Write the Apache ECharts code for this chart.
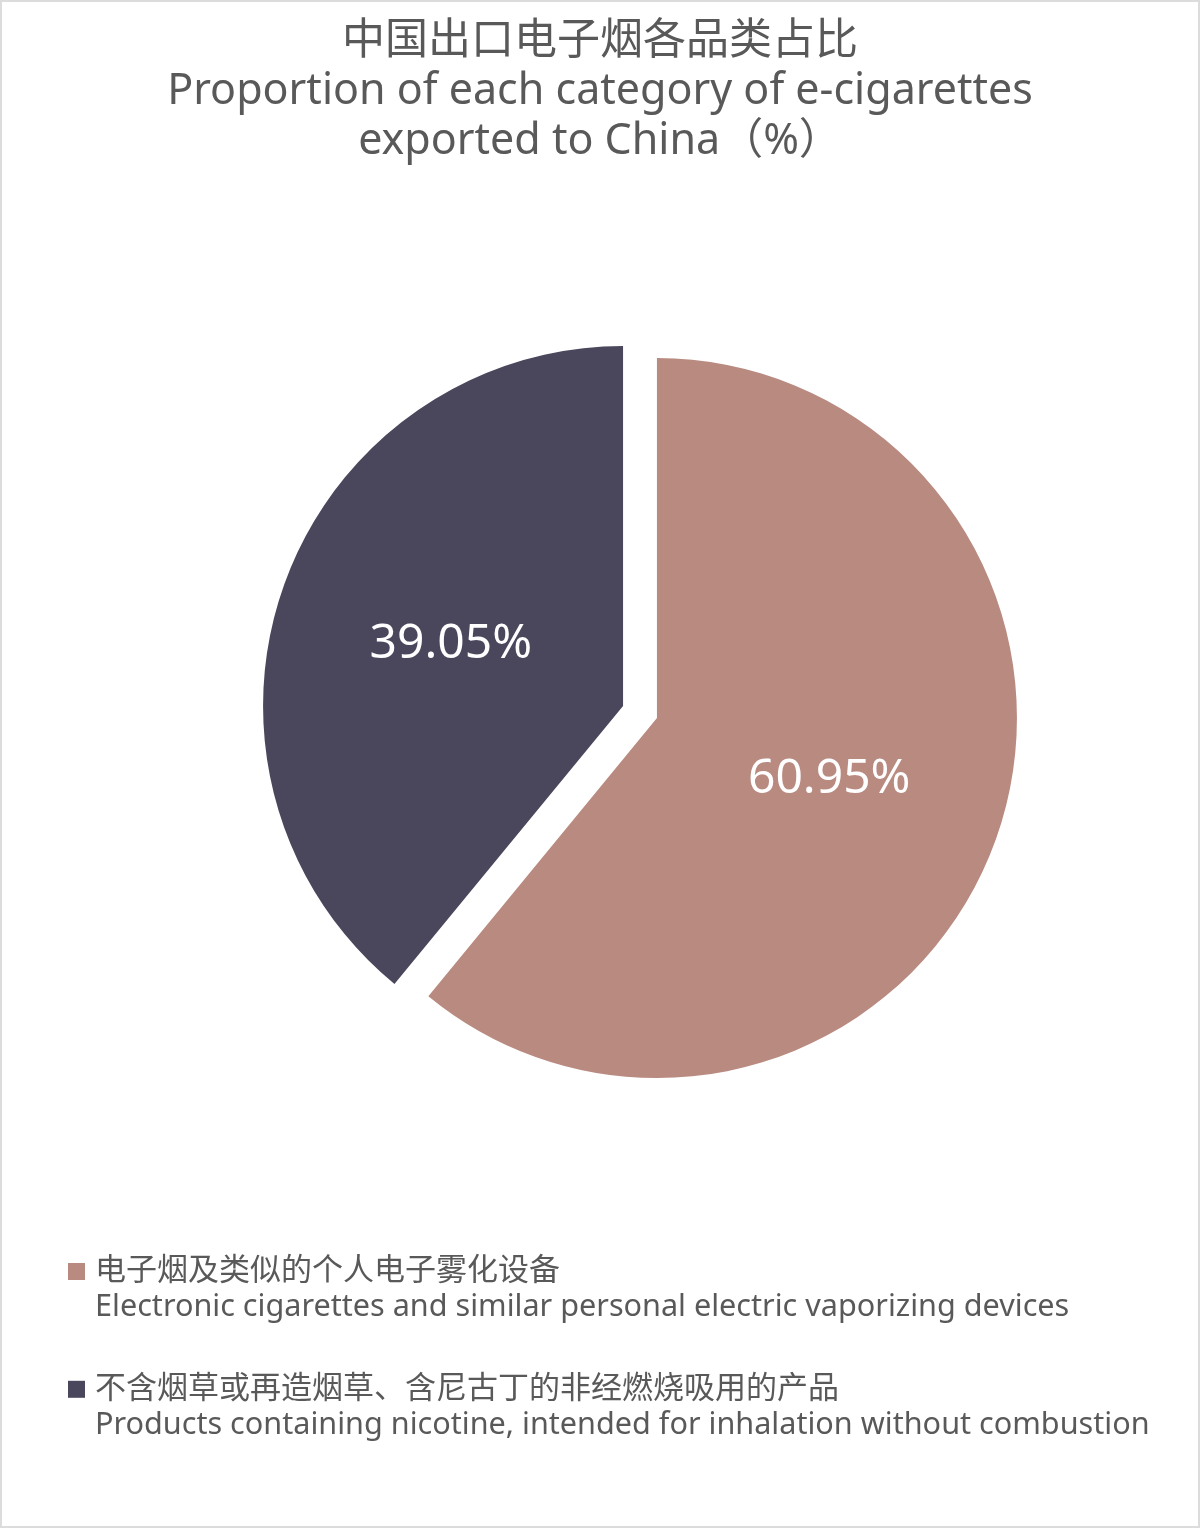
<!DOCTYPE html>
<html>
<head>
<meta charset="utf-8">
<script src="https://cdn.jsdelivr.net/npm/echarts@6/dist/echarts.min.js"></script>
<style>
  html, body { margin: 0; padding: 0; background: #fff; }
  #main { width: 1200px; height: 1528px; box-sizing: border-box; border: 2px solid #dcdcdc; }
</style>
</head>
<body>
<div id="main"></div>
<script>
var titleLines = ['中国出口电子烟各品类占比', 'Proportion of each category of e-cigarettes', 'exported to China（%）'];
var namesCn = ['电子烟及类似的个人电子雾化设备', '不含烟草或再造烟草、含尼古丁的非经燃烧吸用的产品'];
var namesEn = ['Electronic cigarettes and similar personal electric vaporizing devices',
               'Products containing nicotine, intended for inhalation without combustion'];
var shares = [60.95, 39.05];
var colors = ['#B98A80', '#4A475C'];

var myChart = echarts.init(document.getElementById('main'), null, {renderer: 'canvas'});
var font = '"Noto Sans", "Noto Sans CJK SC", sans-serif';

var pieData = [];
for (var i = 0; i < shares.length; i++) {
    pieData.push({
        name: namesCn[i],
        value: shares[i],
        selected: true,
        itemStyle: { color: colors[i] }
    });
}

var option = {
    backgroundColor: '#fff',
    animation: false,
    title: {
        text: titleLines.join('\n'),
        left: 'center',
        top: 10,
        textStyle: {
            color: '#595959',
            fontFamily: font,
            fontSize: 43,
            fontWeight: 'normal',
            lineHeight: 50
        }
    },
    legend: {
        orient: 'vertical',
        left: 61,
        top: 1249,
        itemGap: 51,
        icon: 'rect',
        itemWidth: 17,
        itemHeight: 17,
        selectedMode: false,
        data: namesCn,
        formatter: function (name) {
            var idx = namesCn.indexOf(name);
            return '{cn|' + name + '}\n{en|' + namesEn[idx] + '}';
        },
        textStyle: {
            color: '#595959',
            fontFamily: font,
            padding: [36, 0, 0, 5],
            rich: {
                cn: { fontSize: 31, lineHeight: 36, color: '#595959', fontFamily: font },
                en: { fontSize: 30.6, lineHeight: 36, color: '#595959', fontFamily: font }
            }
        }
    },
    series: [
        {
            type: 'pie',
            center: [638, 710],
            radius: 360,
            startAngle: 90,
            clockwise: true,
            selectedMode: 'multiple',
            selectedOffset: 18,
            label: {
                show: true,
                position: 'inside',
                color: '#fff',
                fontFamily: font,
                fontSize: 48,
                formatter: function (p) { return p.value.toFixed(2) + '%'; }
            },
            labelLine: { show: false },
            emphasis: { disabled: true },
            select: { itemStyle: { borderWidth: 0 } },
            data: pieData
        }
    ]
};

myChart.setOption(option);
</script>
</body>
</html>
